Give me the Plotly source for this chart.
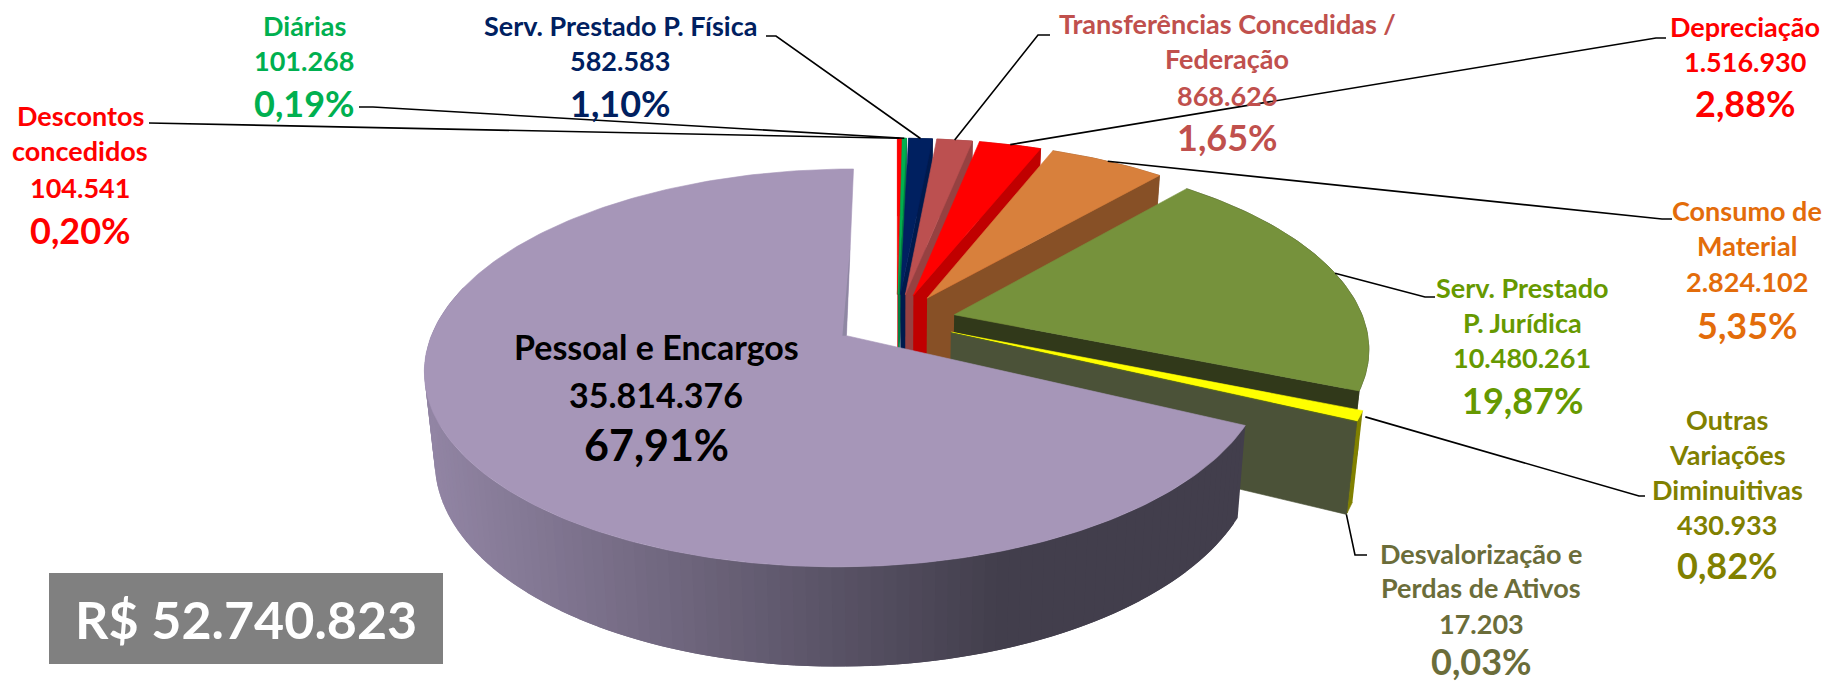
import math
import plotly.graph_objects as go

# ---- data (clockwise from 12 o'clock) ----
names = ["Descontos\nconcedidos", "Diárias", "Serv. Prestado P. Física",
         "Transferências Concedidas /\nFederação", "Depreciação", "Consumo de\nMaterial",
         "Serv. Prestado\nP. Jurídica", "Outras\nVariações\nDiminuitivas",
         "Desvalorização e\nPerdas de Ativos", "Pessoal e Encargos"]
values = [104541, 101268, 582583, 868626, 1516930, 2824102, 10480261, 430933, 17203, 35814376]
percents = ["0,20%", "0,19%", "1,10%", "1,65%", "2,88%", "5,35%", "19,87%", "0,82%", "0,03%", "67,91%"]
total_label = "R$ 52.740.823"

top_colors = ["#FF0000", "#00B050", "#002060", "#BC5050", "#FF0000", "#D8803C", "#76923C",
              "#FFFF00", "#4F6228", "#A696B8"]
wall_colors = ["#C00000", "#008040", "#001A4D", "#964141", "#C00000", "#875026", "#31391A",
               "#808000", "#4B5238", "#423E4C"]
text_colors = ["#FF0000", "#00B050", "#002060", "#C0504D", "#FF0000", "#E36C0A", "#669900",
               "#808000", "#6B6D3A", "#000000"]

# label placement: centre x, y of each line (name lines, value, percent)
label_x = [80, 304, 620, 1227, 1745, 1747, 1522, 1727, 1481, 656]
label_y = [[115, 150, 187, 230], [25, 60, 103], [25, 60, 103], [23, 58, 95, 137], [26, 61, 103],
           [210, 245, 281, 325], [287, 322, 357, 400], [419, 454, 489, 524, 565],
           [553, 587, 623, 661], [346, 394, 444]]
# leader line: points from the label side, joined to the slice's arc
leader_pts = [[(149, 123)], [(359, 107), (373, 107)], [(766, 36), (776, 36)], [(1050, 35), (1038, 35)],
              [(1666, 38), (1656, 38)], [(1672, 219), (1662, 219)], [(1435, 297), (1425, 297)],
              [(1645, 496), (1639, 496)], [(1367, 555), (1355, 555)], None]

# ---- projection of the tilted, exploded pie ----
OX, OY = 897, 321
R, B, P = 410, 189, 0.16
EXPLODE = 0.144
DEPTH = 87
SHRINK = 0.978


def project(u, v, low=False):
    den = 1 + P * v
    x = R * u / den
    y = -B * v / den
    if low:
        return OX + SHRINK * x, OY + SHRINK * y + DEPTH / den
    return OX + x, OY + y


def disc(theta, r, off, low=False):
    t = math.radians(theta)
    return project(off[0] + r * math.sin(t), off[1] + r * math.cos(t), low)


def poly(pts, color, name, width=0.6):
    return go.Scatter(x=[p[0] for p in pts], y=[p[1] for p in pts], mode="lines", fill="toself",
                      fillcolor=color, line=dict(color=color, width=width), hoverinfo="skip",
                      showlegend=False, name=name)


def mix(a, b, t):
    return "rgb(%d,%d,%d)" % tuple(round(a[i] + (b[i] - a[i]) * t) for i in range(3))


def steps(a, b, d=1.0):
    n = max(2, int(abs(b - a) / d) + 1)
    return [a + (b - a) * i / (n - 1) for i in range(n)]


fig = go.Figure()
total = sum(values)
ang = 0.0
arcs = []
for val in values:
    sweep = val / total * 360
    arcs.append((ang, ang + sweep))
    ang += sweep

mids = []
for i, (s, e) in enumerate(arcs):
    m = math.radians((s + e) / 2)
    off = (EXPLODE * math.sin(m), EXPLODE * math.cos(m))
    th = steps(s, e)
    name = names[i].replace("\n", " ")
    if i < len(values) - 1:
        # outer side wall, then the radial wall on the clockwise edge
        fig.add_trace(poly([disc(t, 1, off) for t in th] + [disc(t, 1, off, True) for t in th[::-1]],
                           wall_colors[i], name))
        fig.add_trace(poly([disc(e, 0, off), disc(e, 1, off), disc(e, 1, off, True), disc(e, 0, off, True)],
                           wall_colors[i], name))
    else:
        # graded outer wall of the large slice: each band overlaps the next so no seams show
        lo, hi = (0x92, 0x85, 0xA4), (0x42, 0x3E, 0x4C)
        seg = steps(s, min(e, 285), 1.5)
        for a, b in zip(seg[:-1], seg[1:]):
            pa = disc(a, 1, off)
            pb = disc(b, 1, off)
            t = max(0, min(1, (1000 - (pa[0] + pb[0]) / 2) / (1000 - 423)))
            b2 = min(b + 1.5, seg[-1])
            fig.add_trace(poly([disc(a, 1, off), disc(b2, 1, off), disc(b2, 1, off, True), disc(a, 1, off, True)],
                               mix(hi, lo, t), name, width=0))
    fig.add_trace(poly([disc(s, 0, off)] + [disc(t, 1, off) for t in th] + [disc(s, 0, off)],
                       top_colors[i], name))
    mids.append(off)

# thin shaded sliver along the closing edge of the large slice
s, e = arcs[-1]
apex = disc(e, 0, mids[-1])
fig.add_trace(poly([disc(e, 0.5, mids[-1]), apex, (apex[0] - 4, apex[1])], "#8F87A3", "Pessoal edge", width=0))

# leader lines, attached to each slice's own arc
for i, pts in enumerate(leader_pts):
    if pts is None:
        continue
    s, e = arcs[i]
    m = (s + e) / 2
    if i == 8:
        end = disc(e, 1, mids[i], True)
    elif i == 7:
        end = disc(m, 1.012, mids[i])
    else:
        end = disc(m, 1, mids[i])
    fig.add_trace(go.Scatter(x=[p[0] for p in pts] + [end[0]], y=[p[1] for p in pts] + [end[1]],
                             mode="lines", line=dict(color="#000000", width=1.6),
                             hoverinfo="skip", showlegend=False))

anns = []
NAME_SIZE = 27
PCT_SIZE = 36


def text(x, y, s, size, color):
    anns.append(dict(x=x, y=y, xref="x", yref="y", text=s, showarrow=False, xanchor="center", yanchor="middle",
                     font=dict(family="Lato", size=size, color=color, weight=700)))


for i in range(len(values)):
    lines = names[i].split("\n")
    ys = label_y[i]
    big = i == len(values) - 1
    ns = NAME_SIZE + (7 if big else 0)
    for ln, y in zip(lines, ys):
        text(label_x[i], y, ln, ns, text_colors[i])
    text(label_x[i], ys[-2], f"{values[i]:,}".replace(",", "."), ns, text_colors[i])
    text(label_x[i], ys[-1], percents[i], PCT_SIZE + (7 if big else 0), text_colors[i])

text(246, 619, total_label, 52, "#FFFFFF")

fig.update_layout(
    width=1829, height=683, margin=dict(l=0, r=0, t=0, b=0),
    paper_bgcolor="#FFFFFF", plot_bgcolor="#FFFFFF", showlegend=False,
    xaxis=dict(range=[0, 1829], visible=False, fixedrange=True),
    yaxis=dict(range=[683, 0], visible=False, fixedrange=True),
    shapes=[dict(type="rect", xref="x", yref="y", x0=49, x1=443, y0=573, y1=664,
                 fillcolor="#808080", line=dict(width=0), layer="above")],
    annotations=anns,
)
fig.write_html("out.html", config={"displayModeBar": False},
               post_script="document.body.style.margin='0';document.body.style.overflow='hidden';")
